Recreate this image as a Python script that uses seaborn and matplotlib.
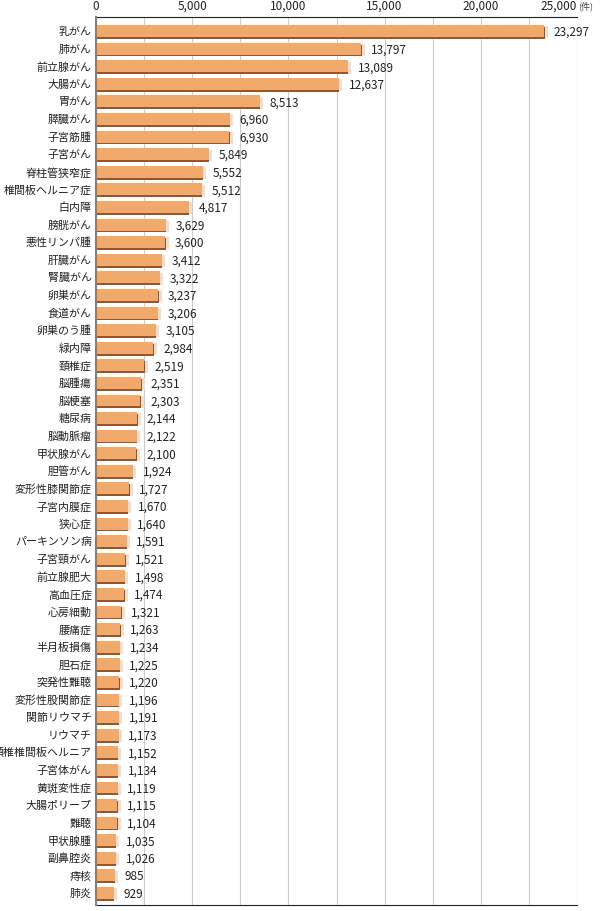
import matplotlib
matplotlib.use('Agg')
import matplotlib.pyplot as plt
import matplotlib.patheffects as pe
import seaborn as sns
import pandas as pd

diseases = ['乳がん', '肺がん', '前立腺がん', '大腸がん', '胃がん', '膵臓がん', '子宮筋腫', '子宮がん',
            '脊柱管狭窄症', '椎間板ヘルニア症', '白内障', '膀胱がん', '悪性リンパ腫', '肝臓がん', '腎臓がん',
            '卵巣がん', '食道がん', '卵巣のう腫', '緑内障', '頚椎症', '脳腫瘍', '脳梗塞', '糖尿病', '脳動脈瘤',
            '甲状腺がん', '胆管がん', '変形性膝関節症', '子宮内膜症', '狭心症', 'パーキンソン病', '子宮頸がん',
            '前立腺肥大', '高血圧症', '心房細動', '腰痛症', '半月板損傷', '胆石症', '突発性難聴', '変形性股関節症',
            '関節リウマチ', 'リウマチ', '頚椎椎間板ヘルニア', '子宮体がん', '黄斑変性症', '大腸ポリープ', '難聴',
            '甲状腺腫', '副鼻腔炎', '痔核', '肺炎']
counts = [23297, 13797, 13089, 12637, 8513, 6960, 6930, 5849, 5552, 5512, 4817, 3629, 3600, 3412, 3322,
          3237, 3206, 3105, 2984, 2519, 2351, 2303, 2144, 2122, 2100, 1924, 1727, 1670, 1640, 1591, 1521,
          1498, 1474, 1321, 1263, 1234, 1225, 1220, 1196, 1191, 1173, 1152, 1134, 1119, 1115, 1104,
          1035, 1026, 985, 929]
xticks = [0, 5000, 10000, 15000, 20000, 25000]

df = pd.DataFrame({'病名': diseases, '件数': counts})

sns.set_style('white')
plt.rcParams['font.family'] = ['Noto Sans CJK JP', 'DejaVu Sans']

fig = plt.figure(figsize=(6, 9.11), dpi=100)
ax = fig.add_axes([0.16, 0.0066, 0.8017, 0.9747])

sns.barplot(x='件数', y='病名', data=df, color='#F2AA6C', width=0.68, saturation=1, ax=ax, zorder=3)

# 立体風の影（右は薄いクリーム色、下は濃い茶色）
for p in ax.patches:
    p.set_linewidth(0)
    p.set_path_effects([
        pe.SimplePatchShadow(offset=(2.4, -0.9), shadow_rgbFace='#F8DDC4', alpha=1),
        pe.SimplePatchShadow(offset=(0.2, -1.3), shadow_rgbFace='#9A5526', alpha=1),
        pe.Normal(),
    ])

for i, v in enumerate(counts):
    ax.annotate(f'{v:,}', xy=(v, i), xytext=(7, -1), textcoords='offset points',
                va='center', ha='left', fontsize=8.5, color='#222222')

ax.set_xlim(0, 25000)
ax.set_ylim(len(counts) - 1 + 0.68, -0.8)
ax.set_xticks(range(0, 25001, 2500), minor=True)
ax.set_xticks(xticks)
ax.set_xticklabels([f'{t:,}' for t in xticks])
ax.xaxis.tick_top()
ax.tick_params(axis='x', which='both', length=0, pad=3, labelsize=8.5, labelcolor='#222222')
ax.tick_params(axis='y', length=0, pad=3, labelsize=7.9, labelcolor='#222222')
ax.get_xticklabels()[-1].set_ha('right')
ax.grid(axis='x', which='both', color='#CCCCCC', linewidth=0.8, zorder=0)
ax.set_axisbelow(True)
ax.set_xlabel('')
ax.set_ylabel('')

ax.spines['right'].set_visible(False)
ax.spines['top'].set_color('#222222')
ax.spines['bottom'].set_color('#222222')
ax.spines['left'].set_color('#808080')
ax.spines['left'].set_linewidth(1.5)
ax.spines['left'].set_zorder(4)

ax.annotate('(件)', xy=(1.0, 1.0), xycoords='axes fraction', xytext=(1, 8),
            textcoords='offset points', fontsize=6.5, color='#444444', va='center', ha='left',
            annotation_clip=False)

fig.savefig('out.png', dpi=100)
